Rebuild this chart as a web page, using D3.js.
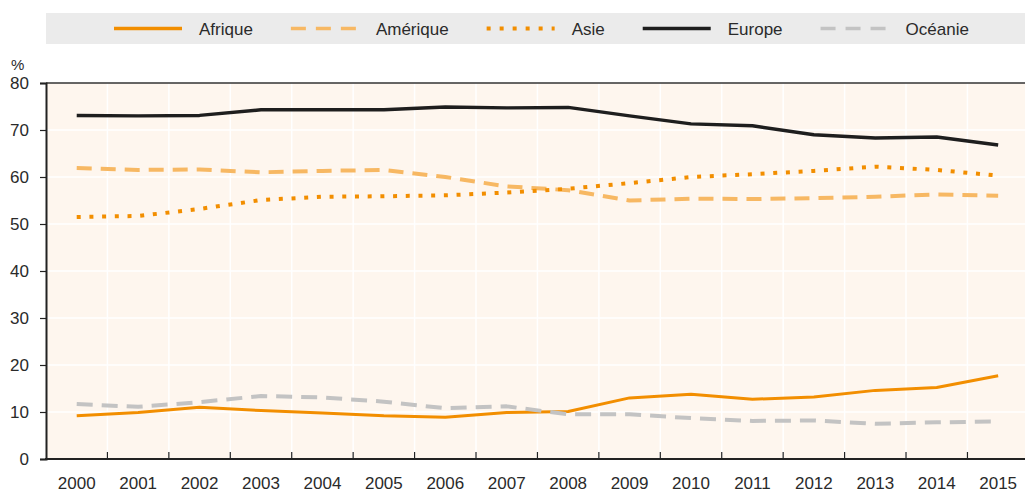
<!DOCTYPE html>
<html>
<head>
<meta charset="utf-8">
<script src="https://cdn.jsdelivr.net/npm/d3@7"></script>
<style>
  html, body { margin: 0; padding: 0; background: #ffffff; }
  svg { display: block; font-family: "Liberation Sans", Arial, sans-serif; }
</style>
</head>
<body>
<svg id="chart" width="1025" height="494"></svg>
<script>
// Part (%) par continent, 2000-2015
const years = ["2000","2001","2002","2003","2004","2005","2006","2007","2008","2009","2010","2011","2012","2013","2014","2015"];
const afrique  = [9.2, 9.9, 11.0, 10.3, 9.8, 9.2, 8.9, 9.9, 10.1, 13.0, 13.8, 12.7, 13.2, 14.6, 15.2, 17.7];
const amerique = [61.9, 61.5, 61.6, 61.0, 61.3, 61.5, 60.0, 58.0, 57.2, 55.0, 55.4, 55.3, 55.5, 55.8, 56.3, 56.0];
const asie     = [51.5, 51.7, 53.2, 55.1, 55.8, 55.9, 56.1, 56.7, 57.5, 58.7, 60.0, 60.6, 61.3, 62.2, 61.5, 60.3];
const europe   = [73.1, 73.0, 73.1, 74.3, 74.3, 74.3, 74.9, 74.7, 74.8, 73.0, 71.3, 70.9, 69.0, 68.3, 68.5, 66.8];
const oceanie  = [11.7, 11.1, 12.1, 13.4, 13.1, 12.2, 10.8, 11.2, 9.5, 9.5, 8.7, 8.1, 8.2, 7.5, 7.8, 8.0];
const yTicks = [0, 10, 20, 30, 40, 50, 60, 70, 80];
const seriesNames = ["Afrique", "Amérique", "Asie", "Europe", "Océanie"];

const series = [
  { name: seriesNames[0], values: afrique,  color: "#F28E00", width: 3,   dash: null },
  { name: seriesNames[1], values: amerique, color: "#F7B863", width: 4,   dash: "15,9" },
  { name: seriesNames[2], values: asie,     color: "#F28E00", width: 4,   dash: "4,8.7" },
  { name: seriesNames[3], values: europe,   color: "#1E1E1E", width: 3.4, dash: null },
  { name: seriesNames[4], values: oceanie,  color: "#C3C3C3", width: 4,   dash: "16,9" }
];

const svg = d3.select("#chart");
const textColor = "#2a2a2a";

const plot = { left: 46, top: 83, bottom: 459, right: 46 + 16 * 61.43 };

const x = d3.scaleBand().domain(years).range([plot.left, plot.right]).padding(0);
const y = d3.scaleLinear().domain([0, 80]).range([plot.bottom, plot.top]);
const cx = d => x(d) + x.bandwidth() / 2;

// Legend band
svg.append("rect")
  .attr("x", 46).attr("y", 13).attr("width", 1025 - 46).attr("height", 31)
  .attr("fill", "#EBEBEB");

const legend = svg.append("g");
let lx = 114;
series.forEach(s => {
  legend.append("line")
    .attr("x1", lx).attr("x2", lx + 68)
    .attr("y1", 28.5).attr("y2", 28.5)
    .attr("stroke", s.color)
    .attr("stroke-width", s.dash === "4,8.7" ? 4 : 3.5)
    .attr("stroke-dasharray", s.dash === "4,8.7" ? "4,9" : (s.dash ? "15,10" : null));
  const t = legend.append("text")
    .attr("x", lx + 85).attr("y", 34.5)
    .attr("font-size", 17).attr("fill", textColor)
    .text(s.name);
  lx += 85 + t.node().getComputedTextLength() + 38;
});

// Plot background
svg.append("rect")
  .attr("x", plot.left).attr("y", plot.top)
  .attr("width", plot.right - plot.left).attr("height", plot.bottom - plot.top)
  .attr("fill", "#FEF6EE");

// Grid lines
const grid = svg.append("g").attr("stroke", "#ffffff").attr("stroke-width", 1.5);
yTicks.filter(v => v > 0 && v < 80).forEach(v => {
  grid.append("line")
    .attr("x1", plot.left).attr("x2", plot.right)
    .attr("y1", y(v)).attr("y2", y(v));
});
years.slice(1).forEach(yr => {
  grid.append("line")
    .attr("x1", x(yr)).attr("x2", x(yr))
    .attr("y1", plot.top).attr("y2", plot.bottom);
});

// Series lines
const line = d3.line()
  .x((d, i) => cx(years[i]))
  .y(d => y(d));

series.forEach(s => {
  svg.append("path")
    .datum(s.values)
    .attr("fill", "none")
    .attr("stroke", s.color)
    .attr("stroke-width", s.width)
    .attr("stroke-linejoin", "round")
    .attr("stroke-dasharray", s.dash)
    .attr("d", line);
});

// Top frame line
svg.append("line")
  .attr("x1", plot.left).attr("x2", plot.right)
  .attr("y1", plot.top).attr("y2", plot.top)
  .attr("stroke", "#333").attr("stroke-width", 1.5);

// Y axis
const yAxis = svg.append("g")
  .attr("transform", `translate(${plot.left},0)`)
  .call(d3.axisLeft(y).tickValues(yTicks).tickSize(6).tickPadding(11).tickFormat(d3.format("d")));
yAxis.select(".domain").attr("stroke", "#222").attr("stroke-width", 2);
yAxis.selectAll(".tick line").attr("stroke", "#222").attr("stroke-width", 1.2);
yAxis.selectAll(".tick text")
  .attr("font-size", 17).attr("fill", textColor)
  .attr("font-family", "Liberation Sans, Arial, sans-serif");

// X axis: inward ticks on band boundaries, labels centred in bands
const xAxisG = svg.append("g");
xAxisG.append("line")
  .attr("x1", plot.left - 1).attr("x2", plot.right)
  .attr("y1", plot.bottom).attr("y2", plot.bottom)
  .attr("stroke", "#222").attr("stroke-width", 2);
years.slice(1).forEach(yr => {
  xAxisG.append("line")
    .attr("x1", x(yr)).attr("x2", x(yr))
    .attr("y1", plot.bottom).attr("y2", plot.bottom - 7)
    .attr("stroke", "#222").attr("stroke-width", 1.2);
});
years.forEach(yr => {
  xAxisG.append("text")
    .attr("x", cx(yr)).attr("y", 489)
    .attr("text-anchor", "middle")
    .attr("font-size", 17).attr("fill", textColor)
    .text(yr);
});

// Unit label
svg.append("text")
  .attr("x", 11).attr("y", 70)
  .attr("font-size", 15).attr("fill", textColor)
  .text("%");
</script>
</body>
</html>
